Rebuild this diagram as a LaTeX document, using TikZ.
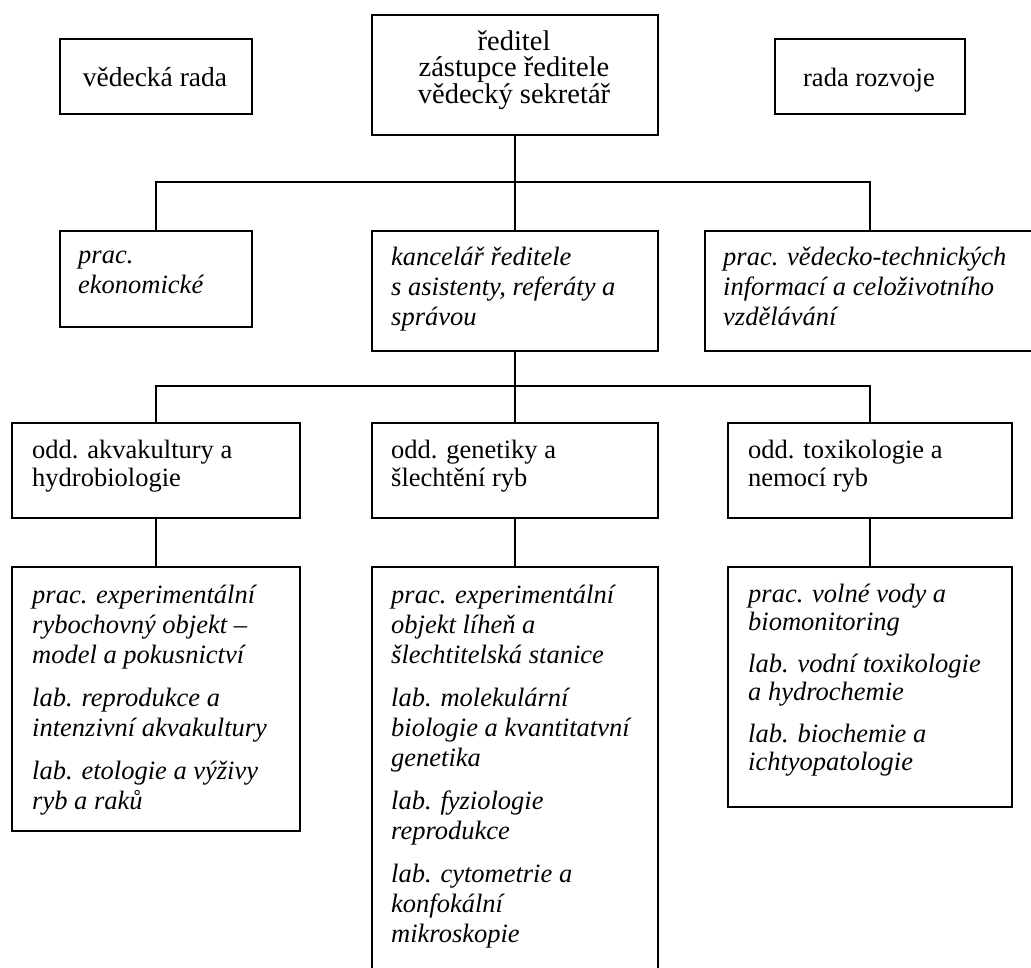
\documentclass[tikz,border=0pt]{standalone}
\usepackage{fontspec}
\setmainfont{Liberation Serif}
\usetikzlibrary{calc}
\tikzset{
  box/.style={draw, line width=1.6pt, inner sep=0pt, anchor=north west},
  conn/.style={line width=1.4pt},
  itxt/.style={inner sep=0pt, anchor=north west, align=left, font=\fontsize{26.5}{30}\selectfont\itshape},
  itxtb/.style={inner sep=0pt, anchor=north west, align=left, font=\fontsize{26.5}{28}\selectfont\itshape},
  utxt/.style={inner sep=0pt, align=left, font=\fontsize{26.5}{28}\selectfont},
}
\newcommand{\firstline}{\rule{0pt}{20pt}}
\begin{document}
\begin{tikzpicture}[x=1pt,y=-1pt]
\clip (0,0) rectangle (1031,967);
\fill[white] (0,0) rectangle (1031,967);
% boxes
\node[box, minimum width=192pt, minimum height=75pt] (vr) at (59,38) {};
\node[box, minimum width=286pt, minimum height=120pt] (dir) at (371,14) {};
\node[box, minimum width=190pt, minimum height=75pt] (rr) at (774,38) {};
\node[box, minimum width=192pt, minimum height=96pt] (eko) at (59,230) {};
\node[box, minimum width=286pt, minimum height=120pt] (kanc) at (371,230) {};
\node[box, minimum width=330pt, minimum height=120pt] (vti) at (704,230) {};
\node[box, minimum width=288pt, minimum height=95pt] (oak) at (11,422) {};
\node[box, minimum width=286pt, minimum height=95pt] (ogs) at (371,422) {};
\node[box, minimum width=284pt, minimum height=95pt] (otx) at (727,422) {};
\node[box, minimum width=288pt, minimum height=264pt] (lak) at (11,566) {};
\node[box, minimum width=286pt, minimum height=430pt] (lgs) at (371,566) {};
\node[box, minimum width=284pt, minimum height=240pt] (ltx) at (727,566) {};
% texts
\node[utxt, anchor=base, font=\fontsize{27.5}{28}\selectfont] (vr-t) at (155,86) {vědecká rada};
\node[utxt, anchor=base] (rr-t) at (869,86) {rada rozvoje};
\node[utxt, align=center, anchor=north, font=\fontsize{28.5}{26.5}\selectfont] (dir-t) at (514,30) {\firstline ředitel\\zástupce ředitele\\vědecký sekretář};
\node[itxt] (eko-t) at (78,243) {\firstline prac.\\ekonomické};
\node[itxt] (kanc-t) at (391,245) {\firstline kancelář ředitele\\s asistenty, referáty a\\správou};
\node[itxt] (vti-t) at (723,245) {\firstline prac. vědecko-technických\\informací a celoživotního\\vzdělávání};
\node[utxt, anchor=north west] (oak-t) at (32,438) {\firstline odd. akvakultury a\\hydrobiologie};
\node[utxt, anchor=north west] (ogs-t) at (391,438) {\firstline odd. genetiky a\\šlechtění ryb};
\node[utxt, anchor=north west] (otx-t) at (748,438) {\firstline odd. toxikologie a\\nemocí ryb};
\node[itxt] (lak-t) at (32,583) {\firstline prac. experimentální\\rybochovný objekt –\\model a pokusnictví\\[13pt]lab. reprodukce a\\intenzivní akvakultury\\[13pt]lab. etologie a výživy\\ryb a raků};
\node[itxt] (lgs-t) at (391,583) {\firstline prac. experimentální\\objekt líheň a\\šlechtitelská stanice\\[13pt]lab. molekulární\\biologie a kvantitatvní\\genetika\\[13pt]lab. fyziologie\\reprodukce\\[13pt]lab. cytometrie a\\konfokální\\mikroskopie};
\node[itxtb] (ltx-t) at (748,582) {\firstline prac. volné vody a\\biomonitoring\\[14pt]lab. vodní toxikologie\\a hydrochemie\\[14pt]lab. biochemie a\\ichtyopatologie};
% junctions
\coordinate (j1) at (514,182);
\coordinate (j2) at (514,386);
% connectors
\draw[conn] (dir.south) -- (kanc.north);
\draw[conn] (eko.north) |- (j1) -| (vti.north);
\draw[conn] (kanc.south) -- (ogs.north);
\draw[conn] (oak.north) |- (j2) -| (otx.north);
\draw[conn] (oak.south) -- (lak.north);
\draw[conn] (ogs.south) -- (lgs.north);
\draw[conn] (otx.south) -- (ltx.north);
\end{tikzpicture}
\end{document}
